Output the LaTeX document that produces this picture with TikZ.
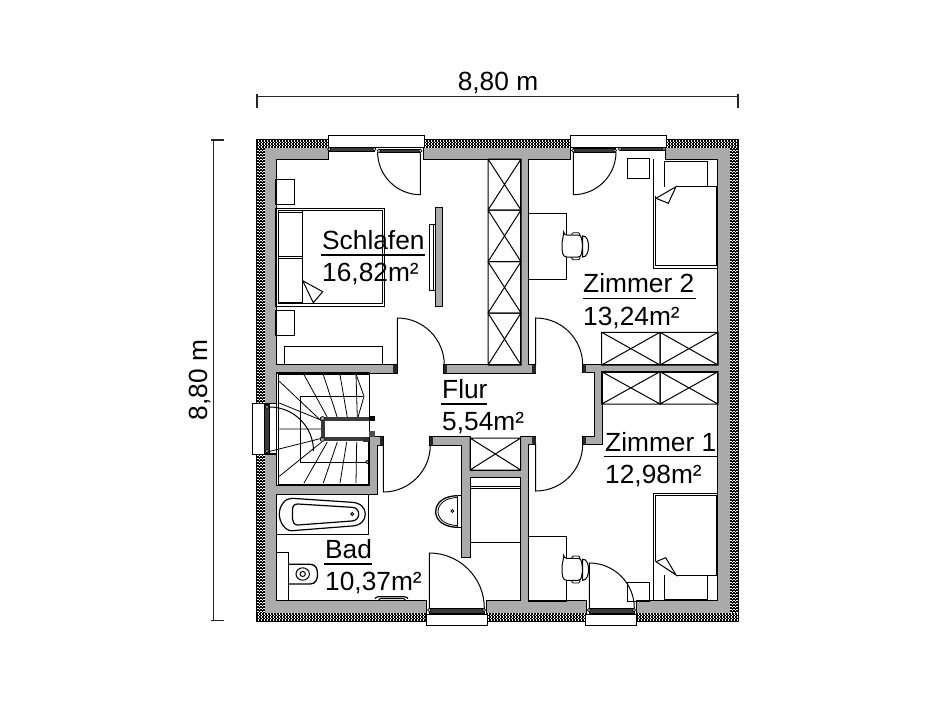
\documentclass[tikz,border=0pt]{standalone}
\usepackage{fontspec}
\setmainfont{Liberation Sans}
\definecolor{wallgray}{HTML}{ABABAB}
\definecolor{bardark}{HTML}{3A3A3A}
\tikzset{
  ln/.style={draw=black,line width=1pt,line join=miter},
  thinln/.style={draw=black,line width=0.8pt},
  dimln/.style={draw=black!85,line width=1.2pt},
  lbl/.style={font=\fontsize{26.3}{30}\selectfont,inner sep=0pt,anchor=base west,text=black},
  rule/.style={draw=black,line width=1.2pt},
  glassbar/.style={fill=bardark,draw=black,line width=0.6pt},
  winbox/.style={fill=white,draw=black,line width=1pt},
  pin/.style={fill=white,draw=black,line width=0.7pt},
  stubcap/.style={fill=black!85},
  xcell/.style={ln},
  dotrow/.style={draw=white,line width=1.05pt}
}
% wall rectangles: drawn once stroked, then filled over, so joints vanish
\newcommand{\wallset}[1]{%
  \foreach \a/\b/\c/\d in {#1}{\path[draw=black,line width=2.2pt] (\a,\b) rectangle (\c,\d);}
  \foreach \a/\b/\c/\d in {#1}{\path[fill=wallgray] (\a,\b) rectangle (\c,\d);}
}
\newcommand{\xbox}[4]{\draw[xcell] (#1,#2) rectangle (#3,#4) (#1,#2) -- (#3,#4) (#1,#4) -- (#3,#2);}
% insulation band: black with staggered white dots
\newcommand{\hband}[3]{% x1 x2 y1
  \fill[black] (#1,#3) rectangle (#2,#3+8);
  \foreach \i in {0,1,2,3,4}{
    \pgfmathsetmacro{\yy}{#3+1+1.5*\i}
    \pgfmathsetmacro{\ph}{mod(\i,2)*1.5}
    \draw[dotrow,dash pattern=on 1.05pt off 1.95pt,dash phase=\ph pt] (#1+0.8,\yy) -- (#2-0.8,\yy);
  }}
\newcommand{\vband}[3]{% x1 y1 y2
  \fill[black] (#1,#2) rectangle (#1+8,#3);
  \foreach \i in {0,1,2,3,4}{
    \pgfmathsetmacro{\xx}{#1+1+1.5*\i}
    \pgfmathsetmacro{\ph}{mod(\i,2)*1.5}
    \draw[dotrow,dash pattern=on 1.05pt off 1.95pt,dash phase=\ph pt] (\xx,#2+0.8) -- (\xx,#3-0.8);
  }}
\begin{document}
\begin{tikzpicture}[x=1pt,y=-1pt]
\path[use as bounding box,fill=white] (0,0) rectangle (950,712);

% ---------- walls
\wallset{257/140/328/159,424/140/570/159,666/140/738/159,
  257/140/276/403,257/454/276/621,718/140/738/621,
  257/601/426/621,487.3/601/585.7/621,636.7/601/738/621,
  276/365/397/372.7,444/365/535/372.7,583/365/718/371.7,
  521/159/528/372,595/372/601.7/444,583/437/601.7/444,
  528/437/535/444,521/437/528/601,430/437/470/445,
  462.3/437/470/557.3,470/470.7/521/477.3,
  276/486/376.7/494,369.3/437/376.7/494,369.3/437/383.3/445}

% insulation band
\vband{257}{140}{403}\vband{257}{454}{621}\vband{730}{140}{621}
\hband{257}{328}{140}\hband{424}{570}{140}\hband{666}{738}{140}
\hband{257}{426}{613}\hband{487.3}{585.7}{613}\hband{636.7}{738}{613}

% wall end caps
\foreach \a/\b/\c/\d in {393/365/397/372.7,444/365/447/372.7,532/365/535.5/372.7,583/365/586/372.7,
  430/437/433/445,380/437/383.3/445,583/437/586/444,532/437/535.5/444}
  {\fill[stubcap] (\a,\b) rectangle (\c,\d);}

% ---------- windows
\draw[winbox] (328,135.7) rectangle (424,147.3);
\draw[glassbar] (329.3,147.3) rectangle (374.3,151);
\draw[glassbar] (379,149) rectangle (420.3,152.7);
\foreach \p in {329.3,374.3}{\draw[pin] (\p,149.2) circle[radius=1.7];}
\foreach \p in {379,420.3}{\draw[pin] (\p,150.8) circle[radius=1.7];}

\draw[winbox] (570,135.7) rectangle (666,147.3);
\draw[glassbar] (573.3,148) rectangle (615,152);
\draw[glassbar] (620,147.5) rectangle (664,150.5);
\foreach \p in {573.3,615}{\draw[pin] (\p,150.5) circle[radius=1.7];}
\foreach \p in {620,664}{\draw[pin] (\p,149) circle[radius=1.7];}

\draw[winbox] (426,614) rectangle (487.3,625);
\draw[glassbar] (429.3,608.3) rectangle (484,613.3);
\foreach \p in {429.3,484}{\draw[pin] (\p,610) circle[radius=1.7];}

\draw[winbox] (585.7,614) rectangle (636.7,625);
\draw[glassbar] (589,608.3) rectangle (634,613.3);
\foreach \p in {589,634}{\draw[pin] (\p,610) circle[radius=1.7];}

\draw[winbox] (252.7,403.3) rectangle (264,454.3);
\draw[glassbar] (264,404) rectangle (269.5,453.5);
\draw[ln] (264,403.3) -- (276.7,403.3) (264,454.3) -- (276.7,454.3);
\foreach \p in {407,451}{\draw[pin] (267,\p) circle[radius=1.7];}

% ---------- doors
\draw[ln] (420.3,152) -- (420.3,194.7) arc[start angle=90,end angle=180,radius=42.7];
\draw[ln] (573.3,152) -- (573.3,194.7) arc[start angle=90,end angle=0,radius=42.7];
\draw[ln] (397.3,365) -- (397.3,318) arc[start angle=-90,end angle=0,radius=47];
\draw[ln] (535.7,365) -- (535.7,318) arc[start angle=-90,end angle=0,radius=47];
\draw[ln] (535.7,444) -- (535.7,491) arc[start angle=90,end angle=0,radius=47];
\draw[ln] (383.3,445) -- (383.3,492) arc[start angle=90,end angle=0,radius=47];
\draw[ln] (429.3,608) -- (429.3,553) arc[start angle=-90,end angle=0,radius=55];
\draw[ln] (589.3,608) -- (589.3,563) arc[start angle=-90,end angle=0,radius=45];

% ---------- closets
\foreach \a/\b in {159/210,210/261.7,261.7/313,313/365}{\xbox{488}{\a}{521}{\b}}
\xbox{601.7}{332.3}{660}{365}\xbox{660}{332.3}{718}{365}
\xbox{601.7}{371.7}{660}{404}\xbox{660}{371.7}{718}{404}
\xbox{470}{438}{520.7}{470}
\draw[ln] (470,477.3) -- (470,543) (520.7,477.3) -- (520.7,543) (470,486) -- (520.7,486)
  (470,488.5) -- (520.7,488.5) (470,542.7) -- (520.7,542.7);

% ---------- Schlafen furniture
\draw[ln] (275.7,179.3) rectangle (294.7,204.3);
\draw[ln] (275.7,310) rectangle (294.7,335);
\draw[ln] (275.7,208.3) rectangle (384.3,306);
\draw[ln] (278.3,210.7) rectangle (382.3,303);
\draw[ln] (278.3,212) rectangle (302.7,256);
\draw[ln] (278.3,258) rectangle (302.7,302);
\draw[ln] (302.7,210.7) -- (302.7,280.7);
\draw[ln,fill=white] (302.7,280.7) -- (322.7,291.7) -- (313.3,302.7) -- cycle;
\draw[ln] (284.3,365) -- (284.3,346) -- (382.7,346) -- (382.7,365);
\draw[thinln,fill=wallgray] (435.3,207.7) rectangle (442,306);
\draw[thinln] (429,224.3) rectangle (433.7,290);
\draw[thinln] (433.7,224.3) -- (435.3,224.3) (433.7,290) -- (435.3,290);

% ---------- Zimmer 2 furniture
\draw[ln] (627.3,158.7) rectangle (649.3,178.3);
\draw[ln] (528,213.3) rectangle (566,279.3);
\draw[ln] (653.3,159) -- (653.3,268.3) -- (718,268.3);
\draw[ln] (655.7,196) -- (655.7,265.7) -- (716,265.7) -- (716,186.7) -- (676,186.7);
\draw[ln] (664,186.7) -- (664,161.7) -- (707.7,161.7) -- (707.7,186.7);
\draw[ln,fill=white] (676,186.7) -- (656,198.3) -- (668.3,203.3) -- cycle;

% ---------- Zimmer 1 furniture
\draw[ln] (627.3,582.7) rectangle (649.3,601.3);
\draw[ln] (528,536.7) rectangle (566,601);
\draw[ln] (718,493.3) -- (653.3,493.3) -- (653.3,601);
\draw[ln] (655.7,561) -- (655.7,495.7) -- (716,495.7) -- (716,575) -- (676,575);
\draw[ln] (664,575) -- (664,599.3) -- (707.7,599.3) -- (707.7,575);
\draw[ln,fill=white] (676,575) -- (656,561.7) -- (665.7,557.7) -- cycle;

% chairs
\foreach \s in {0,323.3}{
\begin{scope}[shift={(0,\s)}]
  \draw[thinln,fill=white,rounded corners=1.5pt] (571.7,232.7) rectangle (580,236.5);
  \draw[thinln,fill=white,rounded corners=1.5pt] (571.7,255.7) rectangle (580,259.7);
  \draw[ln,fill=white,rounded corners=3pt] (563.7,235) -- (581,235) -- (582.7,246) -- (581,257) -- (563.7,257)
     .. controls (561.7,250) and (561.7,242) .. (563.7,235) -- cycle;
  \draw[ln,fill=white] (582.7,236) .. controls (590.5,235) and (590.5,257.5) .. (582.7,257) -- cycle;
\end{scope}}

% ---------- stairs
\draw[ln] (276.7,372.5) rectangle (369.3,485.5);
\draw[thinln] (278.5,374) -- (369.3,374) (278.5,374) -- (278.5,484) -- (369.3,484);
\draw[thinln] (363.3,396.3) -- (300.7,396.3) -- (300.7,462) -- (369.3,462);
\draw[thinln] (279.3,381.3) -- (320,419.7) (304,374.7) -- (327.3,417.3) (323.3,374.7) -- (337.3,417.3)
  (340,374.7) -- (347.3,417.3) (356,374) -- (357.3,417.3);
\draw[thinln] (356,374) -- (364,396.3) -- (357.3,419.7);
\draw[thinln] (279.3,403) -- (320,419.7) (279.3,429) -- (321.7,429) (270,451.3) -- (320,438.7);
\draw[thinln] (279.3,476.3) -- (321.7,442) (304,483) -- (327.3,442) (323.3,483) -- (337.3,442)
  (340,483) -- (346.7,442) (356,483) -- (356.7,442);
\draw[ln] (269.5,407) arc[start angle=-90,end angle=0,radius=44];
\draw[thinln,fill=white] (367.3,462) circle[radius=1.6];
% stair eye
\fill[white] (325,420.7) rectangle (369.3,437.3);
\fill[bardark] (320,417.3) rectangle (375,420.7);
\fill[bardark] (320,437.3) rectangle (369.3,441.3);
\fill[bardark] (321.3,417.3) rectangle (325,441.3);
\fill[black] (369,415.7) rectangle (375,420.7);
\fill[black!80] (363,437.3) rectangle (369.3,442);
\fill[black!70] (369.3,431) rectangle (375,437);
\draw[pin,line width=0.6pt,fill=wallgray] (322.5,418.5) circle[radius=2];
\draw[pin,line width=0.6pt,fill=wallgray] (322.5,439.5) circle[radius=2];

% ---------- Bad
\draw[ln] (276,534) -- (368.7,534) -- (368.7,494);
\draw[ln,line width=1.2pt] (292,498.3) -- (352,502.3) .. controls (361,503) and (365.3,508) .. (365.3,514)
  .. controls (365.3,520) and (361,525.5) .. (352,526) -- (292,530.7)
  .. controls (285,531) and (279.3,522) .. (279.3,514) .. controls (279.3,506) and (285,498) .. (292,498.3) -- cycle;
\draw[ln,line width=1.2pt] (298,504) -- (352,507.3) .. controls (356,507.5) and (358.7,510) .. (358.7,514)
  .. controls (358.7,518) and (356,520.7) .. (352,521) -- (298,525)
  .. controls (294,525) and (292.5,522) .. (292.5,519) -- (292.5,510)
  .. controls (292.5,506) and (294,504) .. (298,504) -- cycle;
\draw[thinln,fill=white] (352.3,514) circle[radius=1.5];
% toilet
\draw[ln] (276,552) -- (288.7,552) -- (288.7,601);
\draw[ln,line width=1.3pt] (288.7,564.3) -- (310,564.3) .. controls (316,564.3) and (317.5,569) .. (317.5,574)
  .. controls (317.5,579) and (316,584) .. (310,584) -- (288.7,584);
\draw[ln] (302.7,574) ellipse[x radius=6.7,y radius=6.2];
\draw[ln] (302.7,574) ellipse[x radius=2.7,y radius=2.5];
% radiator handle
\draw[ln,line width=1.2pt,rounded corners=1.5pt] (375,598.5) -- (376.5,596.7) -- (406,596.7) -- (408,598.5);
\draw[ln] (380,598.7) -- (404,598.7) (380,598.7) -- (378,601) (404,598.7) -- (406,601);
% sink
\draw[ln,line width=1.3pt] (457.7,495.7) .. controls (445,495.7) and (435.7,502) .. (435.7,511.7)
  .. controls (435.7,521) and (445,527.3) .. (457.7,527.3);
\draw[thinln] (457.7,497.5) .. controls (447,497.5) and (438,503) .. (438,511.7)
  .. controls (438,520) and (447,525.5) .. (457.7,525.5);
\draw[ln] (457.7,495.7) -- (462.3,495.7) (457.7,495.7) -- (457.7,527.3) -- (462.3,527.3);
\draw[thinln,fill=white] (452.3,511) circle[radius=1.4];

% ---------- labels
\node[lbl] (schlafen) at (322,249.3) {Schlafen};
\node[lbl] (schlafenarea) at (322,281.7) {16,82m²};
\node[lbl] (zimmerzwei) at (583,292.7) {Zimmer 2};
\node[lbl] (zimmerzweiarea) at (583,325) {13,24m²};
\node[lbl] (flur) at (442,398) {Flur};
\node[lbl] (flurarea) at (442,430) {5,54m²};
\node[lbl] (zimmereins) at (605,451) {Zimmer 1};
\node[lbl] (zimmereinsarea) at (605,483) {12,98m²};
\node[lbl] (bad) at (325,558) {Bad};
\node[lbl] (badarea) at (325,590.7) {10,37m²};
\draw[rule] (321,255) -- (425,255);
\draw[rule] (583,298.7) -- (696,298.7);
\draw[rule] (440.5,404) -- (487,404);
\draw[rule] (604,456.7) -- (717,456.7);
\draw[rule] (324,564) -- (372,564);

% ---------- dimensions
\coordinate (dimtopl) at (257,96.7);
\coordinate (dimtopr) at (738,96.7);
\coordinate (dimleftt) at (213.3,140);
\coordinate (dimleftb) at (213.3,620.7);
\draw[dimln] (dimtopl) -- (dimtopr);
\draw[dimln] (dimleftt) -- (dimleftb);
\draw[dimln] (257,94) -- (257,107.5) (738,94) -- (738,107.5);
\draw[dimln] (210.5,140) -- (224,140) (210.5,620.7) -- (224,620.7);
\node[lbl,anchor=base] (dimtop) at (498,90) {8,80 m};
\node[lbl,anchor=base,rotate=90] (dimleft) at (207,380) {8,80 m};
\end{tikzpicture}
\end{document}
